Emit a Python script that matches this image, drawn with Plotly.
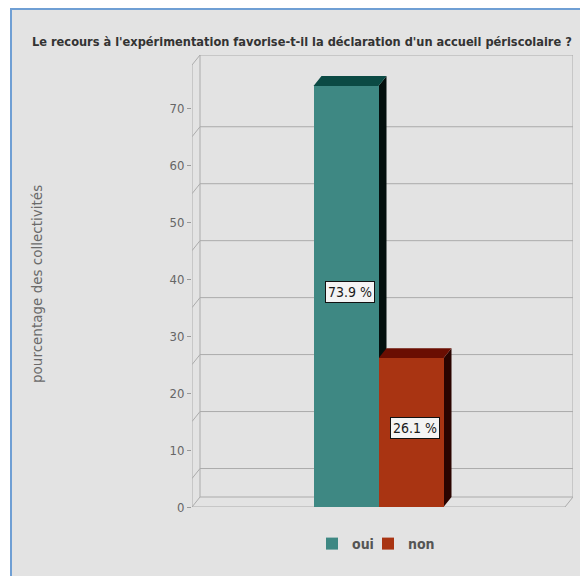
import plotly.graph_objects as go

# ---- data ----
title_text = "Le recours à l'expérimentation favorise-t-il la déclaration d'un accueil périscolaire ?"
y_title = "pourcentage des collectivités"
series = ["oui", "non"]
values = [73.9, 26.1]
labels = ["73.9 %", "26.1 %"]
tick_vals = [0, 10, 20, 30, 40, 50, 60, 70]
grid_vals = [5, 15, 25, 35, 45, 55, 65]

# ---- styles ----
front_colors = ["#3e8883", "#a93412"]
top_colors = ["#0b4a44", "#6a0e02"]
side_colors = ["#030f0d", "#2a0400"]
BG = "#e3e3e3"
LINE = "#ababab"
FONT = "DejaVu Sans Condensed, Liberation Sans Narrow, Arial Narrow, sans-serif"

# page is 588x576 but the browser body has an 8px margin
OFF = 8
W, H = 588 - OFF, 576 - OFF
# target page-pixel geometry of the plot box (front axis / back wall)
P_LEFT, P_RIGHT, P_TOP, P_BOTTOM = 192, 573, 55, 507
ML = P_LEFT - OFF
MT = P_TOP - OFF
MR = W - (P_RIGHT - OFF)
MB = H - (P_BOTTOM - OFF)
PW = W - ML - MR
PH = H - MT - MB
DEPTH_X_PX, DEPTH_Y_PX = 8, 10
ymax_front = max(values) * 1.05
px_per_unit = (PH - DEPTH_Y_PX) / ymax_front
dy = DEPTH_Y_PX / px_per_unit
ytop = ymax_front + dy
dx = DEPTH_X_PX / PW
bar_w = 65 / PW
center = (1 - dx) / 2
positions = [center - bar_w / 2 + i * bar_w for i in range(len(series))]
legend_left_px = [312, 368]  # page px of each legend box's left edge


def px_to_paper_x(px):  # page pixels -> paper fraction
    return (px - OFF - ML) / PW


def px_to_paper_y(py):
    return (H - MB - (py - OFF)) / PH


fig = go.Figure()

legend_ids = ["legend", "legend2"]
for i, s in enumerate(series):
    fig.add_trace(go.Bar(
        x=[positions[i]], y=[values[i]], width=bar_w, name=s,
        marker=dict(color=front_colors[i], line=dict(width=0)),
        hoverinfo="skip", legend=legend_ids[i],
    ))

shapes = []
# frame
shapes.append(dict(type="rect", xref="paper", yref="paper",
                   x0=px_to_paper_x(11), x1=px_to_paper_x(600),
                   y0=px_to_paper_y(600), y1=px_to_paper_y(9),
                   fillcolor=BG, line=dict(color="#6f9fd4", width=2), layer="below"))
# back wall
shapes.append(dict(type="path", path=f"M {dx},{dy} L {dx},{ytop} L 1,{ytop} L 1,{dy} Z",
                   line=dict(color=LINE, width=1), layer="below"))
# front axis
shapes.append(dict(type="path", path=f"M 0,0 L 0,{ytop - dy} L {dx},{ytop}",
                   line=dict(color=LINE, width=1), layer="below"))
# floor
shapes.append(dict(type="path", path=f"M {dx},{dy} L 0,0 L {1 - dx},0 L 1,{dy}",
                   line=dict(color=LINE, width=1), layer="below"))
for g in grid_vals:
    shapes.append(dict(type="path", path=f"M 0,{g} L {dx},{g + dy} L 1,{g + dy}",
                       line=dict(color=LINE, width=1), layer="below"))

# 3D faces of bars
for i, v in enumerate(values):
    x0 = positions[i] - bar_w / 2
    x1 = positions[i] + bar_w / 2
    side = f"M {x1},0 L {x1 + dx},{dy} L {x1 + dx},{v + dy} L {x1},{v} Z"
    top = f"M {x0},{v} L {x0 + dx},{v + dy} L {x1 + dx},{v + dy} L {x1},{v} Z"
    shapes.append(dict(type="path", path=side, fillcolor=side_colors[i],
                       line=dict(width=0), layer="below"))
    shapes.append(dict(type="path", path=top, fillcolor=top_colors[i],
                       line=dict(width=0), layer="below"))

annotations = []
for i, v in enumerate(values):
    annotations.append(dict(
        x=positions[i] + dx / 2, y=v / 2 + dy / 2, text=labels[i], showarrow=False,
        font=dict(family=FONT, size=14, color="#1a1a1a"),
        bgcolor="#f4f4f4", bordercolor="#111111", borderwidth=1, borderpad=2,
    ))

annotations.append(dict(
    xref="paper", yref="paper", x=px_to_paper_x(302), y=px_to_paper_y(41),
    text=f"<b>{title_text}</b>", showarrow=False, xanchor="center", yanchor="middle",
    font=dict(family=FONT, size=12.7, color="#333333"),
))
annotations.append(dict(
    xref="paper", yref="paper", x=px_to_paper_x(37), y=px_to_paper_y(284),
    text=y_title, showarrow=False, textangle=-90, xanchor="center", yanchor="middle",
    font=dict(family="DejaVu Sans, sans-serif", size=13.5, color="#6a6a6a"),
))

legend_style = dict(orientation="h", xanchor="left", yanchor="middle",
                    y=px_to_paper_y(544), bgcolor="rgba(0,0,0,0)",
                    font=dict(family=FONT, size=14, color="#555555", weight="bold"),
                    itemwidth=30, tracegroupgap=0)

fig.update_layout(
    width=W, height=H,
    margin=dict(l=ML, r=MR, t=MT, b=MB, autoexpand=False),
    paper_bgcolor="white", plot_bgcolor="rgba(0,0,0,0)",
    barmode="overlay", bargap=0,
    shapes=shapes, annotations=annotations,
    showlegend=True,
    legend=dict(x=px_to_paper_x(legend_left_px[0]), **legend_style),
    legend2=dict(x=px_to_paper_x(legend_left_px[1]), **legend_style),
    xaxis=dict(range=[0, 1], showgrid=False, zeroline=False, showline=False,
               showticklabels=False, ticks="", fixedrange=True),
    yaxis=dict(range=[0, ytop], showgrid=False, zeroline=False, showline=False,
               tickvals=tick_vals, ticks="outside", ticklen=4, tickcolor="#999999",
               tickfont=dict(family=FONT, size=13, color="#666666"),
               automargin=False, fixedrange=True),
)

fig.write_html("out.html")
